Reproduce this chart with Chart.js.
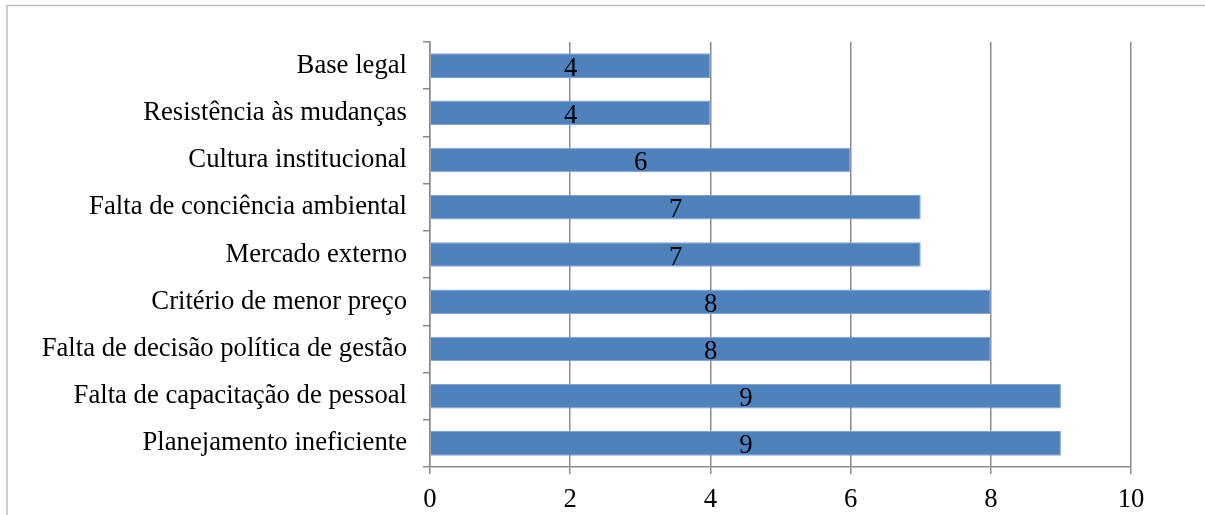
<!DOCTYPE html>
<html>
<head>
<meta charset="utf-8">
<script src="https://cdn.jsdelivr.net/npm/chart.js@4/dist/chart.umd.min.js"></script>
<style>
  body { margin: 0; background: #fff; }
  #wrap { width: 1205px; height: 515px; position: relative; }
</style>
</head>
<body>
<div id="wrap"><canvas id="myChart" width="1205" height="515"></canvas></div>
<script>
const categories = [
  'Base legal',
  'Resistência às mudanças',
  'Cultura institucional',
  'Falta de conciência ambiental',
  'Mercado externo',
  'Critério de menor preço',
  'Falta de decisão política de gestão',
  'Falta de capacitação de pessoal',
  'Planejamento ineficiente'
]
const values = [4, 4, 6, 7, 7, 8, 8, 9, 9]
const xTicks = [0, 2, 4, 6, 8, 10]

const serif = "'Liberation Serif', 'Times New Roman', serif"
const gridGray = '#8c8c8c'
const fontSize = 26.7

// outer frame of the picture
const framePlugin = {
  id: 'frame',
  beforeDraw: (chart) => {
    const ctx = chart.ctx
    ctx.save()
    ctx.strokeStyle = '#bfbfbf'
    ctx.lineWidth = 1.5
    ctx.beginPath()
    ctx.moveTo(7, 520)
    ctx.lineTo(7, 5.5)
    ctx.lineTo(1210, 5.5)
    ctx.stroke()
    ctx.restore()
  }
}

// value labels in the middle of each bar
const valueLabels = {
  id: 'valueLabels',
  afterDatasetsDraw: (chart) => {
    const ctx = chart.ctx
    const meta = chart.getDatasetMeta(0)
    ctx.save()
    ctx.font = fontSize + 'px ' + serif
    ctx.fillStyle = '#000'
    ctx.textAlign = 'center'
    ctx.textBaseline = 'middle'
    meta.data.forEach((bar, i) => {
      const cx = (bar.x + bar.base) / 2
      ctx.fillText(String(values[i]), cx, bar.y + 3)
    })
    ctx.restore()
  }
}

new Chart(document.querySelector('#myChart'), {
  type: 'bar',
  data: {
    labels: categories,
    datasets: [{
      data: values,
      backgroundColor: '#4f81bd',
      borderColor: '#7ea3d4',
      borderWidth: 1,
      barPercentage: 0.52,
      categoryPercentage: 1
    }]
  },
  options: {
    indexAxis: 'y',
    responsive: false,
    animation: false,
    layout: { padding: { top: 42, right: 74, left: 0, bottom: 0 } },
    plugins: {
      legend: { display: false },
      tooltip: { enabled: false }
    },
    scales: {
      x: {
        min: 0,
        max: 10,
        afterBuildTicks: (axis) => { axis.ticks = xTicks.map(v => ({ value: v })) },
        afterFit: (axis) => { axis.height = 48 },
        grid: { color: gridGray, lineWidth: 1.5, tickLength: 7 },
        border: { color: gridGray, width: 1.5 },
        ticks: { color: '#000', font: { family: serif, size: fontSize }, padding: 10 }
      },
      y: {
        afterFit: (axis) => { axis.width = 430 },
        grid: { color: gridGray, lineWidth: 1.5, tickLength: 7, drawOnChartArea: false, offset: true },
        border: { color: gridGray, width: 1.5 },
        ticks: { color: '#000', font: { family: serif, size: fontSize }, padding: 16 }
      }
    }
  },
  plugins: [framePlugin, valueLabels]
})
</script>
</body>
</html>
